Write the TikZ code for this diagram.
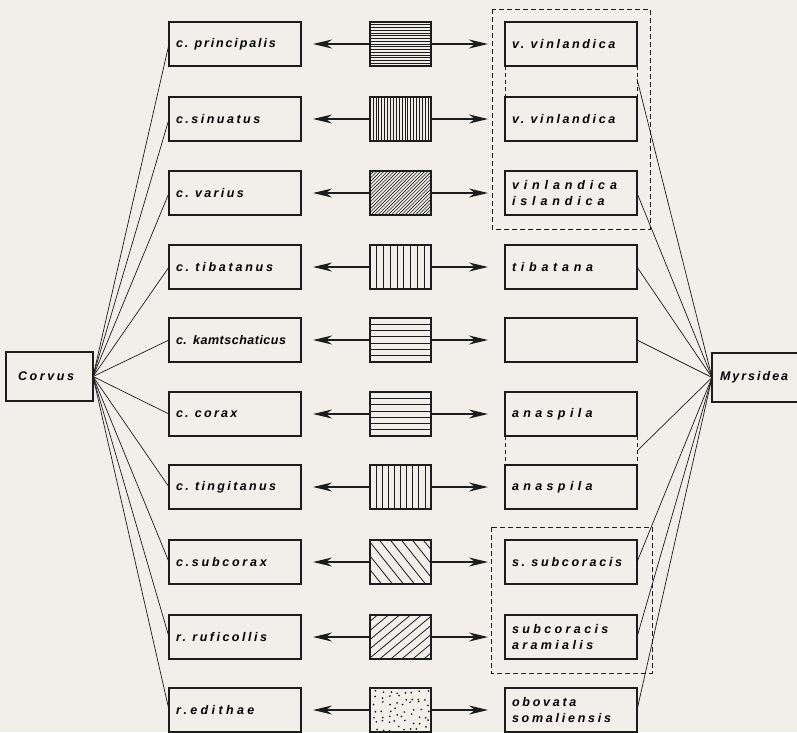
\documentclass[tikz,border=0pt]{standalone}
\usepackage{fontspec}
\newfontfamily\labfont{Liberation Sans}
\usetikzlibrary{arrows.meta}
\newcommand\lbase{\labfont\bfseries\itshape\fontsize{12.5}{16}\selectfont}
\definecolor{paper}{RGB}{242,238,233}
\definecolor{ink}{RGB}{28,28,28}
\tikzset{
  box/.style={draw=ink, line width=1.2pt, minimum height=44pt, inner sep=0pt, outer sep=0pt},
  lbox/.style={box, minimum width=132pt, text width=118pt, align=left},
  pbox/.style={box, minimum width=61pt},
  ls/.style={font=\lbase\addfontfeature{LetterSpace=#1}},
  conn/.style={draw=ink, line width=0.7pt},
  tip/.style={-{Stealth[length=19pt,width=9pt,inset=6pt]}},
  larr/.style={draw=ink, line width=1.3pt, tip, shorten >=12pt},
  rarr/.style={draw=ink, line width=1.3pt, tip, shorten >=17pt},
  group/.style={draw=ink, line width=1pt, dash pattern=on 5pt off 3pt},
  gap/.style={draw=ink, line width=0.9pt, dash pattern=on 4pt off 3pt},
  hpat/.style 2 args={path picture={\begin{scope}[shift={(path picture bounding box.center)}]
     \foreach \k in {1,...,#1}{\pgfmathsetmacro\vv{-22+\k*44/(#1+1)}\draw[ink, line width=#2] (-32,\vv) -- (32,\vv);}\end{scope}}},
  vpat/.style 2 args={path picture={\begin{scope}[shift={(path picture bounding box.center)}]
     \foreach \k in {1,...,#1}{\pgfmathsetmacro\uu{-30.5+\k*61/(#1+1)}\draw[ink, line width=#2] (\uu,-23) -- (\uu,23);}\end{scope}}},
  dpat/.style n args={4}{path picture={\begin{scope}[shift={(path picture bounding box.center)}]
     \foreach \k in {-40,...,40}{\pgfmathsetmacro\uu{\k*#1}\draw[ink, line width=#4] (\uu,{23*#3}) -- ({\uu+46*#2},{-23*#3});}\end{scope}}},
  dotpat/.style={path picture={\begin{scope}[shift={(path picture bounding box.center)}]
     \pgfmathsetseed{11}\foreach \i in {0,...,7}{\foreach \j in {0,...,6}{
       \fill[ink] ({-26+\i*7.4+rand*2.6},{-18.5+\j*6.2+rand*2.4}) circle (0.95);}}\end{scope}}},
}
\begin{document}
\begin{tikzpicture}[x=1pt,y=-1pt]
\fill[paper] (0,0) rectangle (797,732);
\useasboundingbox (0,0) rectangle (797,732);

% hosts and parasites
\node[box, minimum width=87pt, minimum height=49pt, text width=63pt, align=left, ls=21] (corvus) at (49.5,376.5) {Corvus};
\node[box, minimum width=90pt, minimum height=49pt, text width=74pt, align=left, ls=16] (myrs) at (757,377.5) {Myrsidea};

% left column
\node[lbox, ls=15] (L1) at (235,44) {c. principalis};
\node[lbox, ls=20] (L2) at (235,119) {c.sinuatus};
\node[lbox, ls=19] (L3) at (235,193) {c. varius};
\node[lbox, ls=22] (L4) at (235,267) {c. tibatanus};
\node[lbox, ls=4] (L5) at (235,340) {c. kamtschaticus};
\node[lbox, ls=18] (L6) at (235,414) {c. corax};
\node[lbox, ls=19] (L7) at (235,487) {c. tingitanus};
\node[lbox, ls=22] (L8) at (235,562) {c.subcorax};
\node[lbox, ls=20] (L9) at (235,637) {r. ruficollis};
\node[lbox, ls=27] (L10) at (235,710) {r.edithae};

% pattern column
\node[pbox, hpat={15}{0.6pt}] (P1) at (400.5,44) {};
\node[pbox, vpat={20}{0.6pt}] (P2) at (400.5,119) {};
\node[pbox, dpat={3.4}{1}{1}{0.6pt}] (P3) at (400.5,193) {};
\node[pbox, vpat={8}{1.1pt}] (P4) at (400.5,267) {};
\node[pbox, hpat={6}{1.1pt}] (P5) at (400.5,340) {};
\node[pbox, hpat={6}{0.6pt}] (P6) at (400.5,414) {};
\node[pbox, vpat={9}{0.7pt}] (P7) at (400.5,487) {};
\node[pbox, dpat={11}{0.8}{-1}{0.8pt}] (P8) at (400.5,562) {};
\node[pbox, dpat={11}{1.2}{1}{0.8pt}] (P9) at (400.5,637) {};
\node[pbox, dotpat] (P10) at (400.5,710) {};

% right column
\node[lbox, ls=21] (R1) at (571,44) {v. vinlandica};
\node[lbox, ls=21] (R2) at (571,119) {v. vinlandica};
\node[lbox, ls=39] (R3) at (571,193) {vinlandica\\islandica};
\node[lbox, ls=38] (R4) at (571,267) {tibatana};
\node[lbox] (R5) at (571,340) {};
\node[lbox, ls=35] (R6) at (571,414) {anaspila};
\node[lbox, ls=35] (R7) at (571,487) {anaspila};
\node[lbox, ls=22] (R8) at (571,562) {s. subcoracis};
\node[lbox, ls=27] (R9) at (571,637) {subcoracis\\aramialis};
\node[lbox, ls=22] (R10) at (571,710) {obovata\\somaliensis};

% arrows
\foreach \k in {1,...,10}{
  \draw[larr] (P\k.west) -- (L\k.east);
  \draw[rarr] (P\k.east) -- (R\k.west);
}

% dashed groupings
\draw[group] (492,9) rectangle (650,229);
\draw[group] (491,527) rectangle (652,673);
\draw[gap] (R1.south west) -- (R2.north west);
\draw[gap] (R1.south east) -- (R2.north east);
\draw[gap] (R6.south west) -- (R7.north west);
\draw[gap] (R6.south east) -- (R7.north east);
\coordinate (b12) at (637,79);
\coordinate (b67) at (637,451);

% host connectors
\foreach \k in {1,...,10}{\draw[conn] (corvus.east) -- (L\k.west);}

% parasite connectors
\draw[conn] (myrs.west) -- (b12);
\draw[conn] (myrs.west) -- (b67);
\foreach \k in {3,4,5,8,9,10}{\draw[conn] (myrs.west) -- (R\k.east);}
\end{tikzpicture}
\end{document}
